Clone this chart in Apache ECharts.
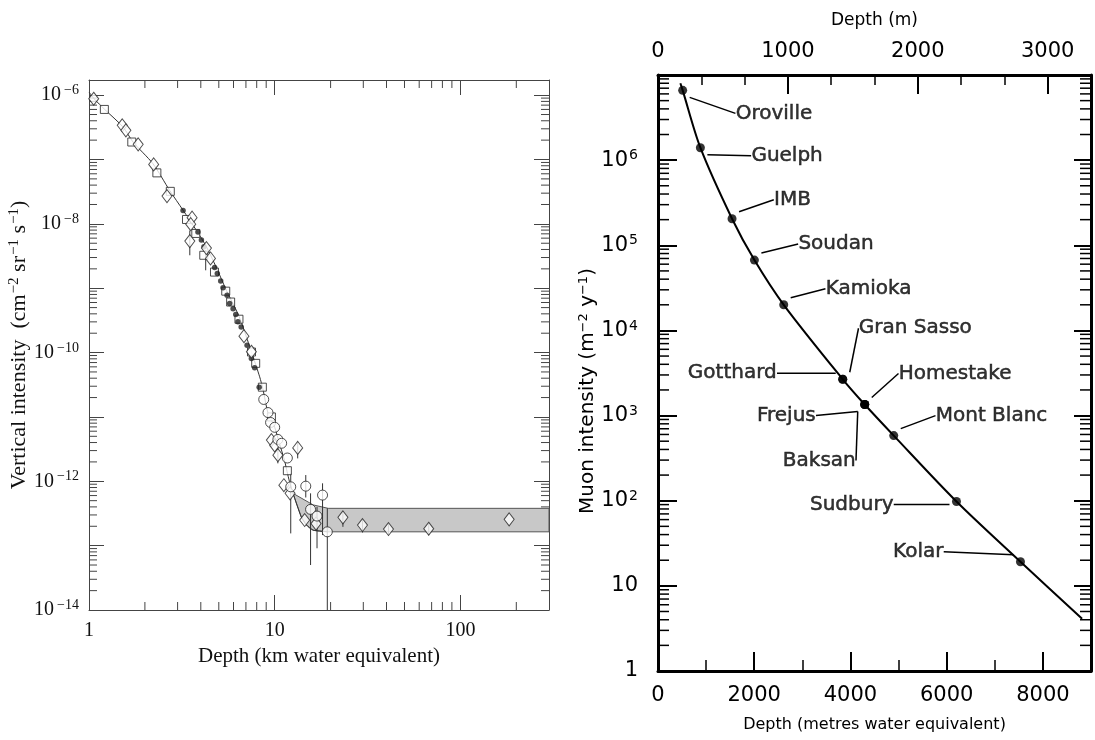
<!DOCTYPE html>
<html>
<head>
<meta charset="utf-8">
<title>Muon intensity vs depth</title>
<script src="https://cdn.jsdelivr.net/npm/echarts@6/dist/echarts.min.js"></script>
<style>
html, body { margin: 0; padding: 0; background: #fff; }
#main { width: 1095px; height: 740px; }
</style>
</head>
<body>
<div id="main"></div>
<script>
// ---- left panel: vertical intensity (cm^-2 sr^-1 s^-1) vs depth (km w.e.)
const fitDepth = [1.0, 1.065, 1.215, 1.525, 1.726, 2.21, 2.72, 3.21, 3.79, 4.29, 4.85, 5.49, 6.34, 6.75, 7.49, 8.3, 8.63, 9.22, 10.0, 10.6, 11.3, 11.66, 12.0, 12.55, 13.9, 14.8, 16.1, 19.4];
const fitIntensity = [1.12e-6, 8.8e-7, 6.0e-7, 3.2e-7, 1.87e-7, 8.6e-8, 3.3e-8, 1.63e-8, 7.9e-9, 4.4e-9, 2.1e-9, 9.3e-10, 4.0e-10, 2.5e-10, 1.03e-10, 4.2e-11, 2.75e-11, 1.13e-11, 6.9e-12, 3.9e-12, 2.1e-12, 1.41e-12, 1.0e-12, 6.5e-13, 2.8e-13, 2.1e-13, 1.74e-13, 1.64e-13];

// shaded band (neutrino-induced floor), outline as [depth, intensity]
const bandOutline = [[12.55, 6.5e-13], [16.1, 4.3e-13], [19.4, 3.8e-13], [300, 3.8e-13], [300, 1.64e-13], [19.4, 1.64e-13], [16.1, 1.74e-13], [14.8, 2.1e-13], [13.9, 2.8e-13]];

const diamondPts = [[1.06, 8.8e-7], [1.51, 3.4e-7], [1.58, 2.84e-7], [1.84, 1.72e-7], [2.23, 8.4e-8], [2.63, 2.7e-8], [3.59, 1.25e-8], [3.53, 9.9e-9], [3.49, 5.4e-9], [4.29, 4.2e-9], [4.51, 2.9e-9], [6.83, 1.8e-10], [7.49, 1.03e-10], [9.6, 4.37e-12], [10.0, 3.6e-12], [10.4, 2.55e-12], [13.3, 3.3e-12], [11.2, 8.7e-13], [12.1, 6.5e-13], [14.5, 2.5e-13], [16.7, 2.2e-13], [23.3, 2.75e-13], [29.7, 2.09e-13], [41, 1.81e-13], [67.5, 1.83e-13], [183, 2.56e-13]];
const squarePts = [[1.21, 6.0e-7], [1.70, 1.87e-7], [2.32, 6.2e-8], [2.74, 3.2e-8], [3.35, 1.17e-8], [3.76, 7.1e-9], [4.15, 3.25e-9], [4.74, 1.78e-9], [5.45, 9.0e-10], [5.79, 6.1e-10], [6.42, 3.3e-10], [7.5, 1.02e-10], [7.9, 6.8e-11], [8.58, 2.9e-11], [9.6, 1.0e-11], [11.7, 1.46e-12]];
const circlePts = [[8.73, 1.87e-11], [9.2, 1.17e-11], [9.5, 8.2e-12], [10.0, 6.9e-12], [10.4, 4.47e-12], [10.9, 3.9e-12], [11.7, 2.3e-12], [12.2, 8.2e-13], [14.7, 8.4e-13], [15.6, 3.66e-13], [16.9, 2.88e-13], [18.1, 6.1e-13], [19.2, 1.64e-13]];
const dotPts = [[3.21, 1.62e-8], [3.86, 7.5e-9], [4.03, 5.6e-9], [4.16, 4.4e-9], [4.75, 2.1e-9], [4.91, 1.7e-9], [5.12, 1.3e-9], [5.27, 1.02e-9], [5.54, 7.8e-10], [5.72, 5.8e-10], [5.97, 4.8e-10], [6.17, 3.9e-10], [6.34, 3.0e-10], [6.6, 2.5e-10], [7.1, 1.3e-10], [7.49, 8.1e-11], [7.8, 5.8e-11], [8.25, 2.9e-11]];
// [depth, low, high]
const errorBars = [[3.49, 3.25e-9, 7.9e-9], [4.25, 1.9e-9, 3.9e-9], [10.4, 1.9e-12, 3.3e-12], [13.3, 2.27e-12, 4.1e-12], [12.2, 1.55e-13, 1.32e-12], [14.7, 5.6e-13, 1.25e-12], [15.6, 5.0e-14, 6.5e-13], [16.9, 9.1e-14, 4.0e-13], [18.1, 1.46e-13, 9.3e-13], [19.2, 1e-14, 3.8e-13], [23.3, 1.96e-13, 3.4e-13], [29.7, 1.6e-13, 2.6e-13], [41, 1.45e-13, 2.2e-13], [67.5, 1.45e-13, 2.2e-13]];

// ---- right panel: muon intensity (m^-2 y^-1) vs depth (m w.e.)
const siteNames = ['Oroville', 'Guelph', 'IMB', 'Soudan', 'Kamioka', 'Gran Sasso', 'Gotthard', 'Homestake', 'Frejus', 'Baksan', 'Mont Blanc', 'Sudbury', 'Kolar'];
const siteDepth = [513, 881, 1539, 2004, 2613, 3840, 3840, 4297, 4297, 4297, 4900, 6204, 7534];
const siteIntensity = [6.6e6, 1.4e6, 2.05e5, 6.7e4, 2.0e4, 2.67e3, 2.67e3, 1.35e3, 1.35e3, 1.35e3, 582, 98, 19.2];
const curveDepth = [465, 513, 881, 1539, 2004, 2613, 3840, 4297, 4900, 6204, 7534, 8815];
const curveIntensity = [8.0e6, 6.6e6, 1.4e6, 2.05e5, 6.7e4, 2.0e4, 2.67e3, 1.35e3, 582, 98, 19.2, 4.1];

// label placement around each site (layout only)
const siteLabelSide = ['right', 'right', 'right', 'right', 'right', 'right', 'left', 'right', 'left', 'left', 'right', 'left', 'left'];
const siteLabelShift = [[46, 23], [44, 8], [35, -19], [37, -16], [35, -16], [9, -51], [-59, -6], [27, -31], [-42, 11], [-2, 56], [35, -20], [-56, 3], [-70, -10]];

const L_MIN = 1, L_MAX = 300, LY_MIN = 1e-14, LY_MAX = 1.72e-6;
const R_YMIN = 1, R_YMAX = 1e7;
const serif = 'Liberation Serif';
const sans = 'DejaVu Sans';
const grey = '#444';

function isDecade(v) {
  const l = Math.log10(v);
  return Math.abs(l - Math.round(l)) < 1e-6;
}
function minorLogTicks(lo, hi) {
  const out = [];
  for (let e = Math.floor(Math.log10(lo)); e < Math.ceil(Math.log10(hi)); e++) {
    for (const m of [2, 3, 4, 5, 6, 7, 8, 9]) {
      const v = m * Math.pow(10, e);
      if (v > lo && v < hi) out.push(v);
    }
  }
  return out;
}
function edgeTicks(dir, len, color, width) {
  return function (params, api) {
    const cs = params.coordSys;
    const p = api.coord([api.value(0), api.value(1)]);
    const mk = (x1, y1, x2, y2) => ({ type: 'line', shape: { x1, y1, x2, y2 }, style: { stroke: color, lineWidth: width } });
    if (dir === 'x') {
      const b = cs.y + cs.height, t = cs.y;
      return { type: 'group', children: [mk(p[0], b, p[0], b - len), mk(p[0], t, p[0], t + len)] };
    }
    const l = cs.x, r = cs.x + cs.width;
    return { type: 'group', children: [mk(l, p[1], l + len, p[1]), mk(r, p[1], r - len, p[1])] };
  };
}

const chart = echarts.init(document.getElementById('main'));

const leftRich = {
  b: { fontFamily: serif, fontSize: 20, color: '#111' },
  s: { fontFamily: serif, fontSize: 14, color: '#111', verticalAlign: 'top', padding: [0, 0, 9, 3] }
};
const rightRich = {
  b: { fontFamily: sans, fontSize: 21, color: '#000' },
  s: { fontFamily: sans, fontSize: 14, color: '#000', verticalAlign: 'top', padding: [0, 0, 9, 1] }
};
const nameRichL = {
  t: { fontFamily: serif, fontSize: 22, color: '#111' },
  s: { fontFamily: serif, fontSize: 15, color: '#111', verticalAlign: 'top', padding: [0, 0, 9, 1] }
};
const nameRichR = {
  t: { fontFamily: sans, fontSize: 20, color: '#000' },
  s: { fontFamily: sans, fontSize: 13, color: '#000', verticalAlign: 'top', padding: [0, 0, 8, 0] }
};

function leftLog(extra) {
  return Object.assign({
    gridIndex: 0, type: 'log', logBase: 10,
    axisLine: { onZero: false, lineStyle: { color: grey, width: 1 } },
    axisTick: { inside: true, length: 15, lineStyle: { color: grey, width: 1 } },
    splitLine: { show: false }
  }, extra);
}
function rightAxis(extra) {
  return Object.assign({
    gridIndex: 1,
    axisLine: { onZero: false, lineStyle: { color: '#000', width: 3 } },
    splitLine: { show: false }
  }, extra);
}

const option = {
  animation: false,
  backgroundColor: '#fff',
  textStyle: { fontFamily: sans },
  grid: [
    { left: 89, top: 80, width: 460, height: 530 },
    { left: 658, top: 75, width: 433, height: 596 }
  ],
  xAxis: [
    leftLog({
      position: 'bottom', min: L_MIN, max: L_MAX,
      axisLabel: {
        margin: 11, fontFamily: serif, fontSize: 20, color: '#111',
        formatter: v => (isDecade(v) ? String(Math.round(v)) : '')
      },
      name: 'Depth (km water equivalent)', nameLocation: 'middle', nameGap: 31,
      nameTextStyle: { fontFamily: serif, fontSize: 21, color: '#111' }
    }),
    leftLog({ position: 'top', min: L_MIN, max: L_MAX, axisLabel: { show: false } }),
    rightAxis({
      type: 'value', position: 'bottom', min: 0, max: 9000, interval: 2000,
      axisTick: { inside: true, length: 19, lineStyle: { color: '#000', width: 2 } },
      axisLabel: {
        margin: 14, fontFamily: sans, fontSize: 21, color: '#000',
        formatter: v => (v % 2000 === 0 ? String(v) : '')
      },
      name: 'Depth (metres water equivalent)', nameLocation: 'middle', nameGap: 46,
      nameTextStyle: { fontFamily: sans, fontSize: 16, color: '#000' }
    }),
    rightAxis({
      type: 'value', position: 'bottom', min: 0, max: 9000, interval: 1000,
      axisLine: { show: false }, axisLabel: { show: false },
      axisTick: { inside: true, length: 11, lineStyle: { color: '#000', width: 1.5 } }
    }),
    rightAxis({
      type: 'value', position: 'top', min: 0, max: 9000 / 2.7, interval: 1000,
      axisTick: { inside: true, length: 19, lineStyle: { color: '#000', width: 2 } },
      axisLabel: {
        margin: 13, fontFamily: sans, fontSize: 21, color: '#000',
        formatter: v => (Math.abs(v % 1000) < 1e-6 ? String(Math.round(v)) : '')
      },
      name: 'Depth (m)', nameLocation: 'middle', nameGap: 46,
      nameTextStyle: { fontFamily: sans, fontSize: 17, color: '#000' }
    }),
    rightAxis({
      type: 'value', position: 'top', min: 0, max: 9000 / 2.7, interval: 1000 / 3,
      axisLine: { show: false }, axisLabel: { show: false },
      axisTick: { inside: true, length: 10, lineStyle: { color: '#000', width: 1.5 } }
    })
  ],
  yAxis: [
    leftLog({
      position: 'left', min: LY_MIN, max: LY_MAX,
      axisLabel: {
        margin: 10, rich: leftRich,
        formatter: v => {
          if (!isDecade(v)) return '';
          const e = Math.round(Math.log10(v));
          return e % 2 ? '' : '{b|10}{s|\u2212' + (-e) + '}';
        }
      },
      name: '{t|Vertical intensity  (cm}{s|\u22122}{t| sr}{s|\u22121}{t| s}{s|\u22121}{t|)}',
      nameLocation: 'middle', nameGap: 58,
      nameTextStyle: { rich: nameRichL }
    }),
    leftLog({ position: 'right', min: LY_MIN, max: LY_MAX, axisLabel: { show: false } }),
    rightAxis({
      type: 'log', logBase: 10, position: 'left', min: R_YMIN, max: R_YMAX,
      axisTick: { inside: true, length: 19, lineStyle: { color: '#000', width: 2 } },
      axisLabel: {
        margin: 20, rich: rightRich,
        formatter: v => {
          if (!isDecade(v)) return '';
          const e = Math.round(Math.log10(v));
          if (e === 0) return '{b|1}';
          if (e === 1) return '{b|10}';
          return e > 6 ? '' : '{b|10}{s|' + e + '}';
        }
      },
      name: '{t|Muon intensity (m}{s|\u22122}{t| y}{s|\u22121}{t|)}',
      nameLocation: 'middle', nameGap: 54,
      nameTextStyle: { rich: nameRichR, padding: [0, 36, 0, 0] }
    }),
    rightAxis({
      type: 'log', logBase: 10, position: 'right', min: R_YMIN, max: R_YMAX,
      axisTick: { inside: true, length: 17, lineStyle: { color: '#000', width: 2 } },
      axisLabel: { show: false }
    })
  ],
  series: [
    // minor log ticks, left panel
    {
      type: 'custom', xAxisIndex: 0, yAxisIndex: 0, silent: true, z: 1,
      data: minorLogTicks(L_MIN, L_MAX).map(v => [v, LY_MIN]),
      renderItem: edgeTicks('x', 8, grey, 1)
    },
    {
      type: 'custom', xAxisIndex: 0, yAxisIndex: 0, silent: true, z: 1,
      data: minorLogTicks(LY_MIN, LY_MAX).map(v => [L_MIN, v]),
      renderItem: edgeTicks('y', 8, grey, 1)
    },
    // minor log ticks, right panel
    {
      type: 'custom', xAxisIndex: 2, yAxisIndex: 2, silent: true, z: 1,
      data: minorLogTicks(R_YMIN, R_YMAX).map(v => [0, v]),
      renderItem: edgeTicks('y', 11, '#000', 1.5)
    },
    // band
    {
      type: 'custom', xAxisIndex: 0, yAxisIndex: 0, silent: true, z: 2,
      data: bandOutline,
      renderItem: function (params, api) {
        if (params.dataIndex !== 0) return null;
        return {
          type: 'polygon',
          shape: { points: bandOutline.map(p => api.coord(p)) },
          style: { fill: '#c8c8c8', stroke: '#555', lineWidth: 1 }
        };
      }
    },
    // fit curve
    {
      type: 'line', xAxisIndex: 0, yAxisIndex: 0, z: 3,
      data: fitDepth.map((d, i) => [d, fitIntensity[i]]),
      showSymbol: false, smooth: 0.25,
      lineStyle: { color: '#333', width: 1 }
    },
    // error bars
    {
      type: 'custom', xAxisIndex: 0, yAxisIndex: 0, silent: true, z: 4,
      data: errorBars, encode: { x: 0, y: [1, 2] },
      renderItem: function (params, api) {
        const a = api.coord([api.value(0), api.value(1)]);
        const b = api.coord([api.value(0), api.value(2)]);
        return { type: 'line', shape: { x1: a[0], y1: a[1], x2: b[0], y2: b[1] }, style: { stroke: '#333', lineWidth: 1 } };
      }
    },
    {
      type: 'scatter', xAxisIndex: 0, yAxisIndex: 0, z: 5,
      data: squarePts, symbol: 'rect', symbolSize: 8,
      itemStyle: { color: '#fff', borderColor: '#222', borderWidth: 1 }
    },
    {
      type: 'scatter', xAxisIndex: 0, yAxisIndex: 0, z: 5,
      data: dotPts, symbol: 'circle', symbolSize: 5.5,
      itemStyle: { color: '#222' }
    },
    {
      type: 'scatter', xAxisIndex: 0, yAxisIndex: 0, z: 6,
      data: diamondPts, symbol: 'diamond', symbolSize: [10, 13],
      itemStyle: { color: '#fff', borderColor: '#222', borderWidth: 1 }
    },
    {
      type: 'scatter', xAxisIndex: 0, yAxisIndex: 0, z: 6,
      data: circlePts, symbol: 'circle', symbolSize: 10,
      itemStyle: { color: '#fff', borderColor: '#222', borderWidth: 1 }
    },
    // right panel curve
    {
      type: 'line', xAxisIndex: 2, yAxisIndex: 2, z: 3,
      data: curveDepth.map((d, i) => [d, curveIntensity[i]]),
      showSymbol: false, smooth: 0.3,
      lineStyle: { color: '#000', width: 2 }
    },
    // site dots
    {
      type: 'scatter', xAxisIndex: 2, yAxisIndex: 2, z: 5,
      data: siteDepth.map((d, i) => [d, siteIntensity[i]]),
      symbol: 'circle', symbolSize: 9,
      itemStyle: { color: '#000' }
    },
    // site labels with leader lines
    {
      type: 'scatter', xAxisIndex: 2, yAxisIndex: 2, z: 6,
      data: siteDepth.map((d, i) => ({
        value: [d, siteIntensity[i]],
        name: siteNames[i],
        label: { position: siteLabelSide[i] }
      })),
      symbol: 'rect', symbolSize: 14,
      itemStyle: { color: 'rgba(0,0,0,0)' },
      label: {
        show: true, distance: 0, formatter: '{b}',
        fontFamily: sans, fontSize: 20, color: '#000',
        textBorderColor: '#000', textBorderWidth: 0.5
      },
      labelLine: { show: true, lineStyle: { color: '#000', width: 1.5 } },
      labelLayout: p => ({ dx: siteLabelShift[p.dataIndex][0], dy: siteLabelShift[p.dataIndex][1] })
    }
  ]
};

chart.setOption(option);
</script>
</body>
</html>
